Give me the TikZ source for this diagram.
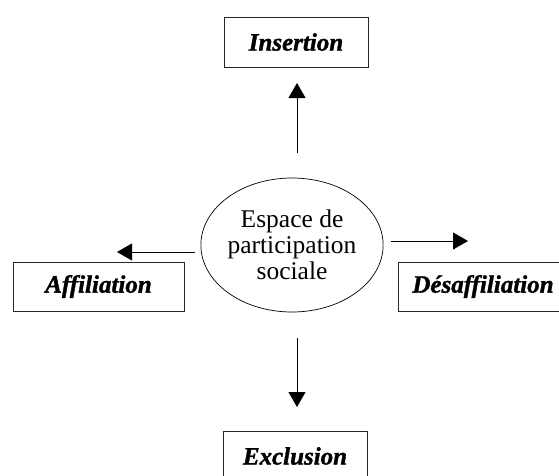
\documentclass[tikz,border=0pt]{standalone}
\usepackage{fontspec}
\setmainfont{Liberation Serif}
\newfontfamily\heavyfont{Liberation Serif Bold Italic}[FakeBold=1.3]
\usetikzlibrary{arrows.meta,shapes.geometric}
\begin{document}
\begin{tikzpicture}[x=1pt,y=-1pt,
  labelbox/.style={draw=black!85,line width=0.9pt,rectangle,inner sep=0pt,
    font=\fontsize{25}{26}\heavyfont},
  centre/.style={draw,ellipse,line width=0.7pt,inner sep=0pt,
    minimum width=162pt,minimum height=134pt,align=center,
    font=\fontsize{25.5}{26}\selectfont},
  arr/.style={line width=0.8pt,-{Triangle[length=15pt,width=17pt]}}]
\useasboundingbox (0,0) rectangle (559,475);
\clip (0,0) rectangle (559,475);
\node[centre] (ell) at (292,245) {Espace de\\participation\\sociale};
\node[labelbox,minimum width=144pt,minimum height=50pt] (ins) at (296,42) {Insertion};
\node[labelbox,minimum width=171pt,minimum height=49pt] (aff) at (98.5,286.5) {Affiliation};
\node[labelbox,minimum width=170pt,minimum height=49pt] (des) at (483,286.5) {Désaffiliation};
\node[labelbox,minimum width=144pt,minimum height=50pt] (exc) at (295,456) {Exclusion};
\coordinate (upS) at (297,153);
\coordinate (upE) at (297,83);
\coordinate (dnS) at (297,338);
\coordinate (dnE) at (297,407);
\coordinate (lfS) at (195,252);
\coordinate (lfE) at (117,252);
\coordinate (rtS) at (391,241);
\coordinate (rtE) at (468,241);
\draw[arr] (upS) -- (upE);
\draw[arr] (dnS) -- (dnE);
\draw[arr] (lfS) -- (lfE);
\draw[arr] (rtS) -- (rtE);
\end{tikzpicture}
\end{document}
